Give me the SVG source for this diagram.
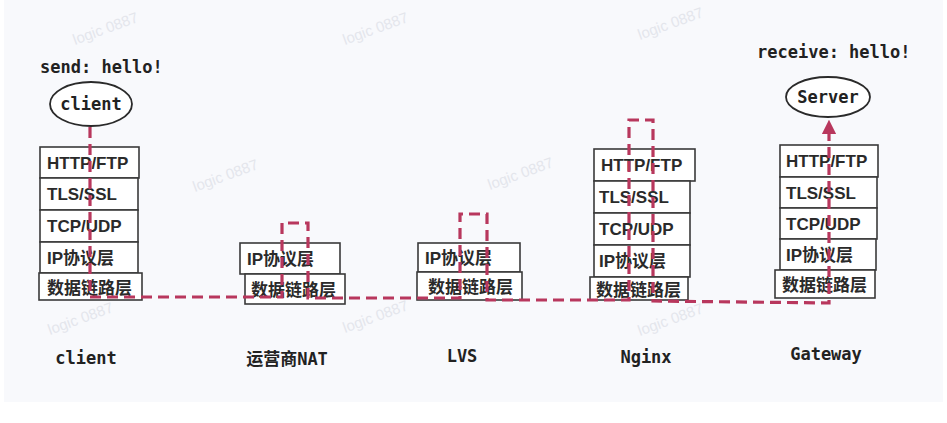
<svg xmlns="http://www.w3.org/2000/svg" width="947" height="423" viewBox="0 0 947 423">
  <defs>
    <marker id="arrow" viewBox="0 0 10 10" refX="7" refY="5" markerWidth="4.5" markerHeight="4.5" orient="auto-start-reverse" markerUnits="strokeWidth">
      <path d="M0,0 L10,5 L0,10 z" fill="#b8375d"/>
    </marker>
    <style>
      .bg { fill: #f8f9fc; }
      .layer { fill: #ffffff; stroke: #3a3a3a; stroke-width: 1.6; }
      .lt { font-family: "Liberation Sans", "Noto Sans CJK SC", sans-serif; font-weight: bold; font-size: 17px; fill: #2a2a2a; }
      .mono { font-family: "DejaVu Sans Mono", "Noto Sans CJK SC", monospace; font-weight: bold; font-size: 17px; fill: #222; }
      .lbl { font-family: "DejaVu Sans Mono", "Noto Sans CJK SC", monospace; font-weight: bold; font-size: 17px; fill: #222; text-anchor: middle; }
      .oval { fill: #ffffff; stroke: #2a2a2a; stroke-width: 1.8; }
      .wm { font-family: "Liberation Sans", sans-serif; font-size: 15px; fill: #e4e6ec; }
      .flow { fill: none; stroke: #b8375d; stroke-width: 3.2; stroke-dasharray: 11 6; stroke-linejoin: miter; }
    </style>
  </defs>

  <rect x="0" y="0" width="947" height="423" fill="#ffffff"/>
  <rect class="bg" x="4" y="0" width="939" height="402"/>

  <g id="watermarks">
    <text class="wm" x="75" y="45" transform="rotate(-20 75 45)">logic 0887</text>
    <text class="wm" x="345" y="45" transform="rotate(-20 345 45)">logic 0887</text>
    <text class="wm" x="640" y="40" transform="rotate(-20 640 40)">logic 0887</text>
    <text class="wm" x="195" y="192" transform="rotate(-20 195 192)">logic 0887</text>
    <text class="wm" x="490" y="190" transform="rotate(-20 490 190)">logic 0887</text>
    <text class="wm" x="50" y="335" transform="rotate(-20 50 335)">logic 0887</text>
    <text class="wm" x="345" y="333" transform="rotate(-20 345 333)">logic 0887</text>
    <text class="wm" x="640" y="336" transform="rotate(-20 640 336)">logic 0887</text>
  </g>

  <g id="node-client">
    <text class="mono" x="40" y="73">send: hello!</text>
    <ellipse class="oval" cx="91" cy="104" rx="41" ry="22"/>
    <text class="mono" x="91" y="110" text-anchor="middle">client</text>
    <rect class="layer" x="40" y="147" width="99" height="31"/>
    <text class="lt" x="47" y="169">HTTP/FTP</text>
    <rect class="layer" x="40" y="178" width="98" height="32"/>
    <text class="lt" x="47" y="200">TLS/SSL</text>
    <rect class="layer" x="40" y="210" width="98" height="32"/>
    <text class="lt" x="47" y="232">TCP/UDP</text>
    <rect class="layer" x="40" y="242" width="98" height="31"/>
    <text class="lt" x="47" y="264">IP协议层</text>
    <rect class="layer" x="39" y="273" width="103" height="27"/>
    <text class="lt" x="47" y="294">数据链路层</text>
    <text class="lbl" x="86" y="364">client</text>
  </g>

  <g id="node-nat">
    <rect class="layer" x="240" y="243" width="100" height="31"/>
    <text class="lt" x="247" y="265">IP协议层</text>
    <rect class="layer" x="245" y="274" width="100" height="30"/>
    <text class="lt" x="251" y="296">数据链路层</text>
    <text class="lbl" x="287" y="365">运营商NAT</text>
  </g>

  <g id="node-lvs">
    <rect class="layer" x="418" y="243" width="102" height="29"/>
    <text class="lt" x="425" y="264">IP协议层</text>
    <rect class="layer" x="417" y="272" width="105" height="28"/>
    <text class="lt" x="428" y="293">数据链路层</text>
    <text class="lbl" x="462" y="362">LVS</text>
  </g>

  <g id="node-nginx">
    <rect class="layer" x="594" y="149" width="101" height="32"/>
    <text class="lt" x="601" y="171">HTTP/FTP</text>
    <rect class="layer" x="594" y="181" width="96" height="32"/>
    <text class="lt" x="599" y="203">TLS/SSL</text>
    <rect class="layer" x="594" y="213" width="96" height="32"/>
    <text class="lt" x="599" y="235">TCP/UDP</text>
    <rect class="layer" x="594" y="245" width="96" height="32"/>
    <text class="lt" x="599" y="267">IP协议层</text>
    <rect class="layer" x="590" y="277" width="98" height="23"/>
    <text class="lt" x="596" y="296">数据链路层</text>
    <text class="lbl" x="646" y="363">Nginx</text>
  </g>

  <g id="node-gateway">
    <text class="mono" x="757" y="58">receive: hello!</text>
    <ellipse class="oval" cx="828" cy="97" rx="42" ry="20"/>
    <text class="mono" x="828" y="103" text-anchor="middle">Server</text>
    <rect class="layer" x="780" y="145" width="98" height="32"/>
    <text class="lt" x="786" y="167">HTTP/FTP</text>
    <rect class="layer" x="780" y="177" width="97" height="31"/>
    <text class="lt" x="786" y="199">TLS/SSL</text>
    <rect class="layer" x="780" y="208" width="97" height="31"/>
    <text class="lt" x="786" y="230">TCP/UDP</text>
    <rect class="layer" x="780" y="239" width="96" height="31"/>
    <text class="lt" x="786" y="261">IP协议层</text>
    <rect class="layer" x="775" y="270" width="100" height="28"/>
    <text class="lt" x="782" y="291">数据链路层</text>
    <text class="lbl" x="826" y="360">Gateway</text>
  </g>

  <g id="connectors">
    <polyline class="flow" marker-end="url(#arrow)" points="90,127 90,297 282,297 282,223 308,223 308,298 460,298 460,214 487,214 487,300 629,300 629,120 653,120 653,301 829,303 829,124"/>
  </g>
</svg>
